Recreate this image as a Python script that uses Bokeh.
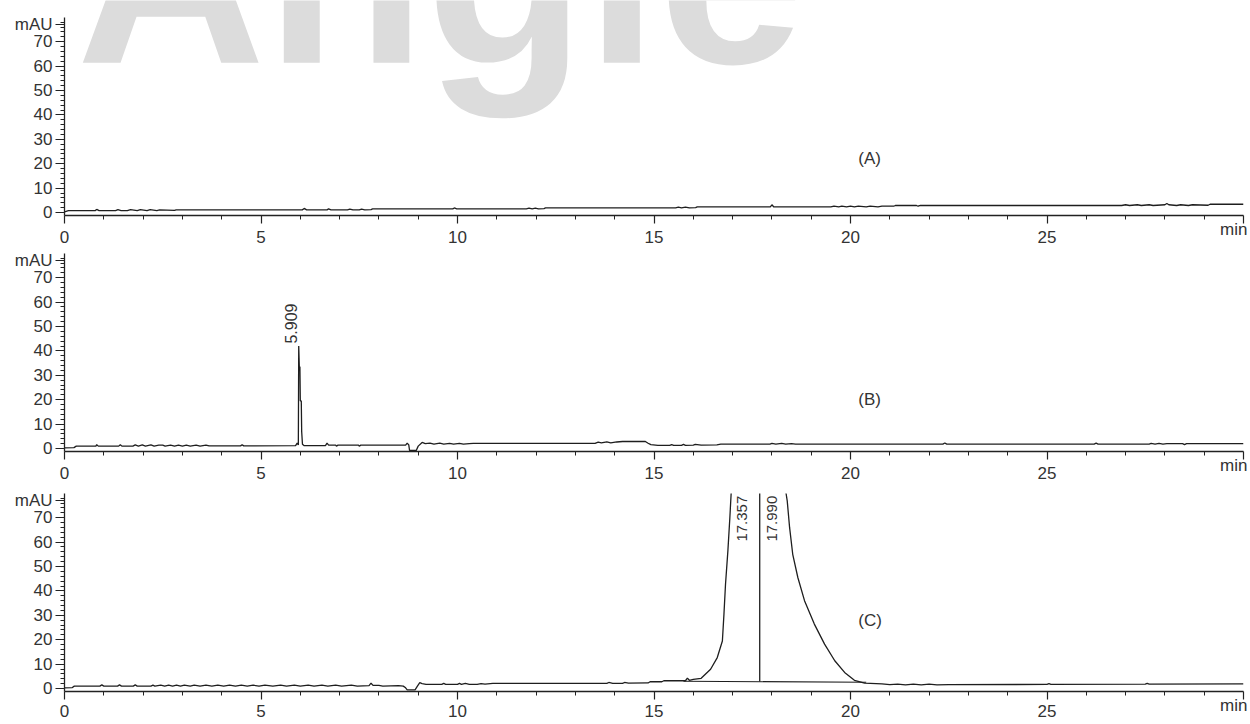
import numpy as np
from bokeh.plotting import figure
from bokeh.models import FixedTicker, LinearAxis
from bokeh.layouts import column
from bokeh.embed import file_html
from bokeh.resources import INLINE
from bokeh.core.properties import value

# ---------------- data ----------------
x_ticks = [0, 5, 10, 15, 20, 25, 30]
y_ticks = [0, 10, 20, 30, 40, 50, 60, 70]
y_unit_tick = 77
y_unit_label = "mAU"
x_unit_label = "min"
panel_tags = ["(A)", "(B)", "(C)"]
watermark_text = "Angle"

a_t = [0, 0.1, 0.78, 0.82, 0.88, 1.3, 1.36, 1.44, 1.6, 1.68, 1.85, 1.93, 2.1, 2.18, 2.35, 2.42,
       2.8, 2.84, 6.05, 6.1, 6.16, 6.68, 6.72, 6.78, 7.2, 7.26, 7.34, 7.5, 7.56, 7.64, 7.8, 7.84,
       9.88, 9.92, 9.98, 11.75, 11.82, 11.9, 11.98, 12.06, 12.2, 12.24, 15.55, 15.62, 15.7, 15.8,
       15.9, 16.06, 16.1, 17.96, 18.0, 18.05, 19.5, 19.58, 19.7, 19.78, 19.9, 20.0, 20.1, 20.2,
       20.4, 20.5, 20.7, 20.8, 21.1, 21.14, 21.68, 21.72, 21.78, 26.9, 27.0, 27.1, 27.3, 27.4,
       27.6, 27.7, 28.0, 28.05, 28.1, 28.3, 28.4, 28.6, 28.7, 29.1, 29.15, 30]
a_v = [0.3, 0.8, 0.8, 1.3, 0.8, 0.8, 1.2, 0.8, 0.8, 1.2, 0.8, 1.2, 0.8, 1.2, 0.8, 1.1,
       0.9, 1.1, 1.1, 1.7, 1.1, 1.1, 1.5, 1.1, 1.1, 1.4, 1.1, 1.1, 1.4, 1.1, 1.2, 1.5,
       1.5, 1.9, 1.5, 1.5, 1.8, 1.5, 1.8, 1.5, 1.6, 1.9, 1.9, 2.2, 1.9, 2.2,
       1.9, 2.0, 2.3, 2.3, 3.2, 2.3, 2.3, 2.6, 2.3, 2.6, 2.3, 2.6, 2.3, 2.6,
       2.3, 2.6, 2.3, 2.6, 2.6, 2.9, 2.9, 2.6, 2.9, 2.9, 3.2, 2.9, 3.2, 2.9,
       3.2, 2.9, 3.2, 3.7, 3.2, 2.9, 3.2, 2.9, 3.2, 3.0, 3.4, 3.4]

b_t = [0, 0.24, 0.3, 0.8, 0.82, 0.86, 1.38, 1.42, 1.46, 1.74, 1.8, 1.88, 1.98, 2.06, 2.2, 2.28,
       2.4, 2.5, 2.56, 2.7, 2.8, 2.9, 3.0, 3.1, 3.2, 3.35, 3.45, 3.6, 3.68, 4.48, 4.52, 4.56,
       5.88, 5.92, 5.95, 5.96, 5.975, 5.99, 6.0, 6.025, 6.035, 6.055, 6.1, 6.64, 6.68, 6.72,
       6.9, 6.92, 6.96, 7.48, 7.5, 7.54, 8.68, 8.72, 8.76, 8.78, 8.95, 9.0, 9.1, 9.18, 9.3,
       9.4, 9.55, 9.65, 9.8, 9.9, 10.05, 10.15, 10.3, 10.4, 13.5, 13.58, 13.66, 13.8, 13.9,
       14.05, 14.2, 14.78, 14.85, 14.92, 15.1, 15.4, 15.45, 15.5, 15.7, 15.75, 15.8, 16.0,
       16.05, 16.2, 16.6, 16.7, 17.95, 18.0, 18.1, 18.25, 18.35, 18.5, 18.6, 22.35, 22.4,
       22.45, 26.2, 26.25, 26.3, 27.6, 27.65, 27.75, 27.85, 27.95, 28.05, 28.45, 28.5, 28.55, 30]
b_v = [0.3, 0.4, 1.0, 1.0, 1.6, 1.0, 1.0, 1.6, 1.0, 1.0, 1.5, 1.0, 1.5, 1.0, 1.5, 1.0,
       1.4, 1.4, 1.0, 1.4, 1.0, 1.4, 1.0, 1.4, 1.0, 1.4, 1.0, 1.4, 1.1, 1.1, 1.6, 1.1,
       1.2, 2.2, 1.5, 42.0, 33.5, 33.5, 19.5, 19.5, 7.0, 1.8, 1.2, 1.2, 2.2, 1.4,
       1.4, 1.0, 1.4, 1.4, 1.0, 1.4, 1.4, 2.2, 1.5, -0.8, -0.8, 1.0, 2.5, 2.0, 2.2,
       1.8, 2.2, 1.8, 2.1, 1.8, 2.1, 1.8, 2.0, 2.1, 2.1, 2.6, 2.3, 2.7, 2.3,
       2.7, 2.9, 2.9, 2.2, 1.6, 1.3, 1.3, 1.6, 1.3, 1.3, 1.7, 1.3, 1.4,
       1.7, 1.4, 1.5, 1.8, 1.8, 2.1, 1.8, 2.1, 1.8, 2.0, 1.8, 1.8, 2.3,
       1.8, 1.8, 2.2, 1.8, 1.8, 2.1, 1.8, 2.1, 1.8, 2.0, 2.0, 1.6, 2.0, 2.0]

c_t = [0, 0.2, 0.25, 0.9, 0.95, 1.0, 1.35, 1.4, 1.45, 1.75, 1.8, 1.85, 2.2, 2.25, 2.3, 2.45,
       2.55, 2.65, 2.75, 2.85, 2.95, 3.05, 3.2, 3.3, 3.45, 3.6, 3.75, 3.9, 4.05, 4.2, 4.35,
       4.5, 4.65, 4.8, 4.95, 5.1, 5.3, 5.5, 5.65, 5.85, 6.0, 6.2, 6.35, 6.55, 6.7, 6.9, 7.05,
       7.3, 7.45, 7.75, 7.8, 7.85, 8.0, 8.1, 8.5, 8.62, 8.68, 8.72, 8.92, 8.98, 9.04, 9.1,
       9.2, 9.6, 9.65, 9.7, 10.0, 10.05, 10.1, 10.2, 10.3, 10.5, 10.6, 10.7, 10.9, 13.8,
       13.85, 13.95, 14.2, 14.25, 14.35, 14.85, 14.9, 15.2, 15.25, 15.8, 15.85, 15.9, 16.0,
       16.2, 16.44, 16.61, 16.74, 16.78, 16.82, 16.88, 16.93, 16.97, 17.0, 18.33, 18.36,
       18.39, 18.45, 18.53, 18.66, 18.83, 19.08, 19.34, 19.6, 19.85, 20.1, 20.36, 20.8, 21.0,
       21.2, 21.4, 21.6, 21.8, 22.0, 22.2, 22.5, 25.0, 25.05, 25.1, 27.5, 27.55, 27.6, 30]
c_v = [0.3, 0.4, 1.0, 1.0, 1.5, 1.0, 1.0, 1.5, 1.0, 1.0, 1.5, 1.0, 1.0, 1.4, 1.0, 1.4,
       1.0, 1.4, 1.0, 1.4, 1.0, 1.4, 1.0, 1.4, 1.0, 1.4, 1.0, 1.4, 1.0, 1.4, 1.0,
       1.4, 1.0, 1.4, 1.0, 1.4, 1.0, 1.4, 1.0, 1.4, 1.0, 1.4, 1.0, 1.4, 1.0, 1.4, 1.0,
       1.4, 1.0, 1.2, 2.2, 1.3, 1.3, 1.0, 1.2, 1.0, 0.3, -0.5, -0.5, 1.0, 2.4, 2.0,
       1.7, 1.7, 2.1, 1.7, 1.7, 2.1, 1.7, 2.1, 1.7, 1.7, 2.0, 1.8, 2.1, 2.1,
       2.5, 2.1, 2.1, 2.5, 2.2, 2.3, 2.8, 2.8, 3.2, 3.2, 4.3, 3.4, 3.8,
       4.2, 7.9, 12.7, 19.5, 30.5, 42.8, 56.4, 70.0, 82.0, 100.0, 100.0, 80.0,
       76.9, 66.0, 55.0, 45.5, 36.0, 26.4, 18.2, 11.4, 6.6, 3.4, 2.2, 1.9, 1.6,
       1.8, 1.5, 1.8, 1.5, 1.8, 1.5, 1.6, 1.7, 2.0, 1.7, 1.8, 2.1, 1.8, 1.9]

# integration baseline and peak split line in (C)
c_base_t = [15.75, 20.4]
c_base_v = [3.0, 2.6]
c_split_t = [17.69]
c_split_v0 = [2.9]
c_split_v1 = [100.0]

# peak annotations
b_peak_t = [5.909]
b_peak_v = [42.0]
b_peak_lbl = ["5.909"]
c_peak_t = [17.357, 17.990]
c_peak_lbl = ["17.357", "17.990"]

# ---------------- styling ----------------
FONT = "Liberation Sans"
TXT = "#333333"
LINE = "#1e1e1e"
Y0, Y1 = -1.2, 79.9
PX_PER_UNIT = 198 / (Y1 - Y0)


def make_panel(t, v, tag, tag_y, height, top, bottom, extra_top=0, x_standoff=7):
    y_end = Y1 + extra_top / PX_PER_UNIT
    p = figure(width=1250, height=height, x_range=(0, 30), y_range=(Y0, y_end),
               output_backend="svg", toolbar_location=None,
               min_border_left=64, min_border_right=7, min_border_top=top,
               min_border_bottom=bottom)
    p.outline_line_color = None
    p.xgrid.visible = False
    p.ygrid.visible = False
    p.background_fill_color = None
    p.border_fill_color = "white"

    xa = p.xaxis[0]
    xa.ticker = FixedTicker(ticks=x_ticks,
                            minor_ticks=[k for k in range(0, 31) if k % 5])
    xa.major_label_overrides = {x_ticks[-1]: ""}
    ya = p.yaxis[0]
    ya.ticker = FixedTicker(ticks=y_ticks + [y_unit_tick],
                            minor_ticks=[k for k in range(2, 80, 2) if k % 10])
    ya.major_label_overrides = {y_unit_tick: y_unit_label}
    ya.bounds = (Y0, Y1)

    for ax, mt in ((xa, 8), (ya, 9)):
        ax.axis_line_color = "#222222"
        ax.axis_line_width = 1.3
        ax.major_tick_line_color = "#222222"
        ax.minor_tick_line_color = "#222222"
        ax.major_tick_line_width = 1.2
        ax.minor_tick_line_width = 1
        ax.major_tick_out = mt
        ax.major_tick_in = 0
        ax.minor_tick_out = 4
        ax.minor_tick_in = 0
        ax.major_label_text_font = FONT
        ax.major_label_text_font_size = "17px"
        ax.major_label_text_color = TXT
    xa.major_label_standoff = x_standoff
    ya.major_label_standoff = 3

    # unit label "min" at the right end of the time axis (pulled up beside the tick labels)
    unit_ax = LinearAxis(ticker=FixedTicker(ticks=[29.75], minor_ticks=[]),
                         major_label_overrides={29.75: x_unit_label},
                         axis_line_color=None, major_tick_line_color=None,
                         minor_tick_line_color=None, major_tick_out=0,
                         major_tick_in=0, minor_tick_out=0, minor_tick_in=0,
                         major_label_standoff=-(x_standoff + 19),
                         major_label_text_font=FONT,
                         major_label_text_font_size="17px",
                         major_label_text_color=TXT)
    p.add_layout(unit_ax, "below")

    p.line(t, v, line_color=LINE, line_width=1.3)

    p.text(x=[20.2], y=[tag_y], text=[tag], text_font=value(FONT),
           text_font_size="17px", text_color=TXT, text_align="left",
           text_baseline="middle")
    return p


pA = make_panel(a_t, a_v, panel_tags[0], 22, height=249, top=0, bottom=34,
                extra_top=17)
pA.text(x=[0.3], y=[38.4], text=[watermark_text], text_font=value(FONT),
        text_font_style="bold", text_font_size="262px", text_color="#dcdcdc",
        text_baseline="bottom", text_align="left", level="underlay")

pB = make_panel(b_t, b_v, panel_tags[1], 20, height=236, top=4, bottom=34)
pB.text(x=b_peak_t, y=[vv + 1.0 for vv in b_peak_v], text=b_peak_lbl,
        angle=np.pi / 2, text_align="left", text_baseline="bottom",
        text_font=value(FONT), text_font_size="16px", text_color=TXT)

pC = make_panel(c_t, c_v, panel_tags[2], 28, height=238, top=8, bottom=32,
                x_standoff=5)
pC.line(c_base_t, c_base_v, line_color=LINE, line_width=1.1)
pC.segment(x0=c_split_t, y0=c_split_v0, x1=c_split_t, y1=c_split_v1,
           line_color=LINE, line_width=1.3)
pC.text(x=c_peak_t[:1], y=[79.0], text=c_peak_lbl[:1], angle=np.pi / 2,
        text_align="right", text_baseline="bottom", text_font=value(FONT),
        text_font_size="15px", text_color=TXT)
pC.text(x=c_peak_t[1:], y=[79.0], text=c_peak_lbl[1:], angle=np.pi / 2,
        text_align="right", text_baseline="middle", text_font=value(FONT),
        text_font_size="15px", text_color=TXT)

layout = column(pA, pB, pC, spacing=0)
open("out.html", "w").write(file_html(layout, INLINE))
